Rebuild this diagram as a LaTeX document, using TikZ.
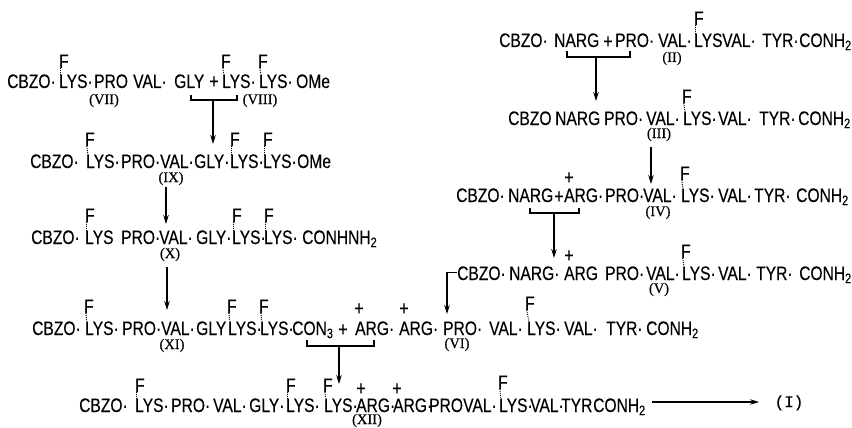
\documentclass[tikz,border=0pt]{standalone}
\usepackage{fontspec}
\setmainfont[FakeStretch=0.8,FakeBold=0.2]{Liberation Sans}
\newfontfamily\numfont[FakeBold=0.4]{Liberation Serif}
\newfontfamily\endfont[FakeBold=0.4]{Liberation Mono}
\usetikzlibrary{positioning,arrows.meta}
\tikzset{
  res/.style={anchor=base west, inner sep=0pt, font=\fontsize{19.5}{21}\selectfont},
  ftag/.style={res},
  plusm/.style={anchor=base, inner sep=0pt, font=\fontsize{20}{22}\selectfont},
  cmpd/.style={anchor=base, inner sep=0pt, font=\numfont\fontsize{14.5}{16}\selectfont},
  fbond/.style={densely dotted, line width=0.9pt},
  rxn/.style={draw=black, line width=1.1pt, -{Stealth[length=9pt,width=5.5pt]}},
  brk/.style={draw=black, line width=1.2pt}
}

\begin{document}
\begin{tikzpicture}[x=1pt,y=-1pt]
  \useasboundingbox (0,0) rectangle (852,428);

  % Left column: compounds VII to XI
  \foreach \nm/\x/\t in {cbzo/7/CBZO·,lysa/59/LYS·,pro/94/PRO,val/133/VAL·,gly/174/GLY,lysb/222/LYS·,lysc/259/LYS·,ome/296/OMe}
    \node[res] (r7\nm) at (\x,88) {\t};
  \foreach \nm/\x/\t in {cbzo/30/CBZO·,lysa/86/LYS·,pro/121/PRO·,val/160/VAL·,gly/194/GLY·,lysb/230/LYS·,lysc/263/LYS·,ome/297/OMe}
    \node[res] (r9\nm) at (\x,168) {\t};
  \foreach \nm/\x/\t in {cbzo/31/CBZO·,lysa/85/LYS,pro/121/PRO·,val/159/VAL·,gly/196/GLY·,lysb/232/LYS·,lysc/264/LYS·,con/302/CONHNH\textsubscript{2}}
    \node[res] (r10\nm) at (\x,244) {\t};
  \foreach \nm/\x/\t in {cbzo/32/CBZO·,lysa/85/LYS·,pro/122/PRO·,val/161/VAL·,gly/196/GLY,lysb/228/LYS·,lysc/260/LYS·,con/292/CON\textsubscript{3},arga/355/ARG·,argb/399/ARG·,prob/443/PRO·,valb/489/VAL·,lysd/527/LYS·,valc/564/VAL·,tyr/606/TYR·,conb/646/CONH\textsubscript{2}}
    \node[res] (r11\nm) at (\x,335) {\t};
  \foreach \nm/\x/\t in {cbzo/79/CBZO·,lysa/135/LYS·,pro/171/PRO·,val/213/VAL·,gly/249/GLY·,lysb/286/LYS·,lysc/324/LYS·,arga/356/ARG·,argb/393/ARG·,prob/429/PRO,valb/463/VAL·,lysd/499/LYS·,valc/530/VAL·,tyr/561/TYR,con/593/CONH\textsubscript{2}}
    \node[res] (r12\nm) at (\x,412) {\t};

  % Right column: compounds II to V
  \foreach \nm/\x/\t in {cbzo/499/CBZO·,narg/554/NARG,pro/615/PRO·,val/658/VAL·,lys/694/LYS,valb/722/VAL·,tyr/762/TYR·,con/799/CONH\textsubscript{2}}
    \node[res] (r2\nm) at (\x,47) {\t};
  \foreach \nm/\x/\t in {cbzo/508/CBZO,narg/555/NARG,pro/604/PRO·,val/646/VAL·,lys/683/LYS·,valb/718/VAL·,tyr/759/TYR·,con/798/CONH\textsubscript{2}}
    \node[res] (r3\nm) at (\x,125) {\t};
  \foreach \nm/\x/\t in {cbzo/456/CBZO·,narg/508/NARG,arg/564/ARG·,pro/605/PRO·,val/643/VAL·,lys/681/LYS·,valb/718/VAL·,tyr/754/TYR·,con/796/CONH\textsubscript{2}}
    \node[res] (r4\nm) at (\x,202) {\t};
  \foreach \nm/\x/\t in {cbzo/457/CBZO·,narg/509/NARG·,arg/564/ARG,pro/605/PRO·,val/646/VAL·,lys/682/LYS·,valb/718/VAL·,tyr/756/TYR·,con/799/CONH\textsubscript{2}}
    \node[res] (r5\nm) at (\x,280) {\t};

  % Fluoro groups above lysines
  \foreach \nm/\x/\y/\b in {a/59/68/r7lysa,b/221/68/r7lysb,c/258/68/r7lysc,
      d/85/146/r9lysa,e/230/146/r9lysb,f/263/146/r9lysc,
      g/85/222/r10lysa,h/232/222/r10lysb,i/264/222/r10lysc,
      j/84/313/r11lysa,k/227/313/r11lysb,l/259/313/r11lysc,m/525/310/r11lysd,
      n/135/392/r12lysa,o/286/392/r12lysb,p/323/392/r12lysc,q/498/389/r12lysd,
      r/694/25/r2lys,s/682/103/r3lys,t/680/180/r4lys,u/681/258/r5lys}{
    \node[ftag] (f\nm) at (\x,\y) {F};
    \draw[fbond] ([xshift=1.8pt]f\nm.south west) -- ([xshift=1.8pt]\b.north west);
  }

  % Plus signs
  \foreach \nm/\x/\y in {a/214/88,b/343/336,c/608/48,d/559/203,
      e/359/315,f/404/315,g/361/395,h/397/395,i/569/184,j/569/262}
    \node[plusm] (p\nm) at (\x,\y) {+};

  % Compound numbers
  \foreach \nm/\x/\y/\t in {c7/104/104/(VII),c8/260/104/(VIII),c9/171/182/(IX),
      c10/170/258/(X),c11/172/349/(XI),c6/457/348/(VI),c12/367/424/(XII),
      c2/672/62/(II),c3/659/138/(III),c4/658/216/(IV),c5/659/293/(V)}
    \node[cmpd] (\nm) at (\x,\y) {\t};
  \node[cmpd, font=\endfont\fontsize{16}{18}\selectfont] (c1) at (789,407) {(I)};

  % Brackets joining the coupling partners
  \coordinate (b7l) at (191,95);  \coordinate (b7r) at (237,95);
  \coordinate (b2l) at (567,51);  \coordinate (b2r) at (630,51);
  \coordinate (b4l) at (530,208); \coordinate (b4r) at (579,208);
  \coordinate (b11l) at (307,340); \coordinate (b11r) at (374,340);
  \draw[brk] (b7l) -- ++(0,5) -| (b7r);
  \draw[brk] (b2l) -- ++(0,6) -| (b2r);
  \draw[brk] (b4l) -- ++(0,5) -| (b4r);
  \draw[brk] (b11l) -- ++(0,6) -| (b11r);

  % Arrow ends
  \coordinate (a7s) at (213,100);  \coordinate (a7e) at (213,144);
  \coordinate (a9s) at (166,187);  \coordinate (a9e) at (166,224);
  \coordinate (a10s) at (167,267); \coordinate (a10e) at (167,310);
  \coordinate (a11s) at (339,346); \coordinate (a11e) at (339,384);
  \coordinate (a2s) at (596,57);   \coordinate (a2e) at (596,101);
  \coordinate (a3s) at (651,147);  \coordinate (a3e) at (651,184);
  \coordinate (a4s) at (554,213);  \coordinate (a4e) at (554,258);
  \coordinate (a5e) at (447,314);
  \coordinate (a12s) at (652,402); \coordinate (a12e) at (759,402);

  \draw[rxn] (a7s) -- (a7e);
  \draw[rxn] (a9s) -- (a9e);
  \draw[rxn] (a10s) -- (a10e);
  \draw[rxn] (a11s) -- (a11e);
  \draw[rxn] (a2s) -- (a2e);
  \draw[rxn] (a3s) -- (a3e);
  \draw[rxn] (a4s) -- (a4e);
  \draw[rxn] ([yshift=1pt]r5cbzo.west) -| (a5e);
  \draw[rxn] (a12s) -- (a12e);
\end{tikzpicture}
\end{document}
